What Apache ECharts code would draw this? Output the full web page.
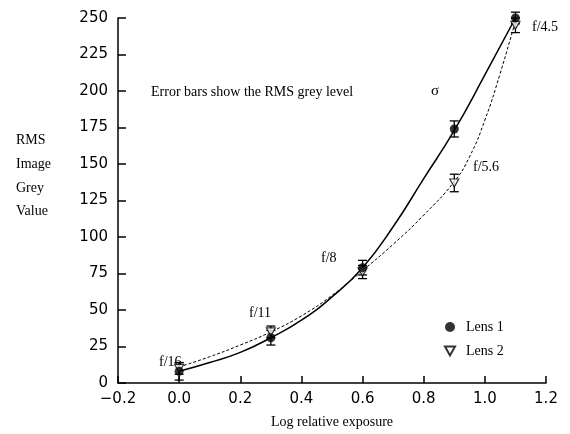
<!DOCTYPE html>
<html>
<head>
<meta charset="utf-8">
<script src="https://cdn.jsdelivr.net/npm/echarts@6/dist/echarts.min.js"></script>
<style>html,body{margin:0;padding:0;background:#fff}#c{width:570px;height:434px}</style>
</head>
<body>
<div id="c"></div>
<script>
// ---- data ----
const exposure   = [0.0, 0.3, 0.6, 0.9, 1.1];
const lens1Mean  = [8, 31, 79, 174, 250];
const lens1Err   = [6, 5, 5, 5.5, 4];
const lens2Mean  = [10, 35, 76, 137, 245];
const lens2Err   = [4, 4, 4.5, 6, 5];

const lens1FitX  = [0.0, 0.1, 0.2, 0.3, 0.4, 0.5, 0.6, 0.7, 0.8, 0.9, 1.0, 1.1];
const lens1FitY  = [8, 14, 21, 31, 43, 59, 79, 107, 140, 173, 211, 250];
const lens2FitX  = [0.0, 0.1, 0.2, 0.3, 0.4, 0.5, 0.6, 0.7, 0.8, 0.9, 0.95, 1.0, 1.05, 1.1];
const lens2FitY  = [11, 18, 26, 35, 46, 60, 77, 95, 115, 138, 155, 180, 212, 248];

const xTickValues = [-0.2, 0.0, 0.2, 0.4, 0.6, 0.8, 1.0, 1.2];
const xTickLabels = ['\u22120.2', '0.0', '0.2', '0.4', '0.6', '0.8', '1.0', '1.2'];
const yTickLabels = ['0', '25', '50', '75', '100', '125', '150', '175', '200', '225', '250'];

const fLabels = ['f/16', 'f/11', 'f/8', 'f/5.6', 'f/4.5'];

// ---- chart ----
const SERIF = '"Liberation Serif", "Times New Roman", serif';
const SANS = '"DejaVu Sans", sans-serif';

function pairs(xs, ys) { return xs.map((x, i) => [x, ys[i]]); }
function errData(xs, m, e) { return xs.map((x, i) => [x, m[i] - e[i], m[i] + e[i]]); }

function errRender(params, api) {
  const x = api.value(0);
  const lo = api.coord([x, api.value(1)]);
  const hi = api.coord([x, api.value(2)]);
  const cap = 4.5;
  const st = { stroke: '#000', lineWidth: 1.3 };
  return {
    type: 'group',
    children: [
      { type: 'line', shape: { x1: lo[0], y1: lo[1], x2: hi[0], y2: hi[1] }, style: st },
      { type: 'line', shape: { x1: lo[0] - cap, y1: lo[1], x2: lo[0] + cap, y2: lo[1] }, style: st },
      { type: 'line', shape: { x1: hi[0] - cap, y1: hi[1], x2: hi[0] + cap, y2: hi[1] }, style: st }
    ]
  };
}

const downTri = 'path://M0,0 L10,0 L5,9 Z';

const chart = echarts.init(document.getElementById('c'), null, { renderer: 'canvas' });
chart.setOption({
  animation: false,
  backgroundColor: '#fff',
  grid: { left: 118, right: 24, top: 18, bottom: 46 },
  xAxis: {
    type: 'value', min: -0.2, max: 1.2, interval: 0.2,
    name: 'Log relative exposure', nameLocation: 'middle', nameGap: 32,
    nameTextStyle: { fontFamily: SERIF, fontSize: 14, color: '#000' },
    axisLine: { onZero: false, lineStyle: { color: '#000', width: 1.5 } },
    axisTick: { inside: true, length: 7, lineStyle: { color: '#000', width: 1.5 } },
    axisLabel: {
      fontFamily: SANS, fontSize: 15, color: '#000', margin: 9,
      formatter: v => { const i = xTickValues.findIndex(t => Math.abs(t - v) < 1e-6); return i >= 0 ? xTickLabels[i] : ''; }
    },
    splitLine: { show: false }
  },
  yAxis: {
    type: 'value', min: 0, max: 250, interval: 25,
    axisLine: { show: true, onZero: false, lineStyle: { color: '#000', width: 1.5 } },
    axisTick: { show: true, inside: true, length: 8, lineStyle: { color: '#000', width: 1.5 } },
    axisLabel: {
      fontFamily: SANS, fontSize: 15, color: '#000', margin: 10,
      formatter: v => { const i = Math.round(v / 25); return yTickLabels[i] !== undefined ? yTickLabels[i] : ''; }
    },
    splitLine: { show: false }
  },
  legend: {
    orient: 'vertical', left: 439, top: 314,
    itemWidth: 10, itemHeight: 10, itemGap: 8,
    data: ['Lens 1', 'Lens 2'],
    textStyle: { fontFamily: SERIF, fontSize: 14, color: '#000', lineHeight: 16, padding: [0, 0, 0, 6] }
  },
  series: [
    {
      name: 'Lens 1 fit', type: 'line', data: pairs(lens1FitX, lens1FitY), smooth: 0.5,
      showSymbol: false, symbol: 'none', lineStyle: { color: '#000', width: 1.5 }, z: 2
    },
    {
      name: 'Lens 2 fit', type: 'line', data: pairs(lens2FitX, lens2FitY), smooth: 0.5,
      showSymbol: false, symbol: 'none', lineStyle: { color: '#000', width: 1, type: [3, 2] }, z: 2
    },
    { name: 'Lens 1 err', type: 'custom', renderItem: errRender, data: errData(exposure, lens1Mean, lens1Err), z: 3 },
    { name: 'Lens 2 err', type: 'custom', renderItem: errRender, data: errData(exposure, lens2Mean, lens2Err), z: 3 },
    {
      name: 'Lens 2', type: 'scatter', data: pairs(exposure, lens2Mean), symbol: downTri, symbolSize: [9, 8],
      itemStyle: { color: '#fff', borderColor: '#000', borderWidth: 1.2 }, z: 4
    },
    {
      name: 'Lens 1', type: 'scatter', data: pairs(exposure, lens1Mean), symbol: 'circle', symbolSize: 9,
      itemStyle: { color: '#000' }, z: 5
    }
  ],
  graphic: [
    { type: 'text', left: 16, top: 133, style: { text: 'RMS', font: '14px ' + SERIF, fill: '#000' } },
    { type: 'text', left: 16, top: 157, style: { text: 'Image', font: '14px ' + SERIF, fill: '#000' } },
    { type: 'text', left: 16, top: 181, style: { text: 'Grey', font: '14px ' + SERIF, fill: '#000' } },
    { type: 'text', left: 16, top: 204, style: { text: 'Value', font: '14px ' + SERIF, fill: '#000' } },
    { type: 'text', left: 151, top: 85, style: { text: 'Error bars show the RMS grey level', font: '14px ' + SERIF, fill: '#000' } },
    { type: 'text', left: 431, top: 84, style: { text: '\u03c3', font: '15px ' + SERIF, fill: '#000' } },
    { type: 'text', left: 159, top: 355, style: { text: fLabels[0], font: '14px ' + SERIF, fill: '#000' } },
    { type: 'text', left: 249, top: 306, style: { text: fLabels[1], font: '14px ' + SERIF, fill: '#000' } },
    { type: 'text', left: 321, top: 251, style: { text: fLabels[2], font: '14px ' + SERIF, fill: '#000' } },
    { type: 'text', left: 473, top: 160, style: { text: fLabels[3], font: '14px ' + SERIF, fill: '#000' } },
    { type: 'text', left: 532, top: 20, style: { text: fLabels[4], font: '14px ' + SERIF, fill: '#000' } }
  ]
});
</script>
</body>
</html>
